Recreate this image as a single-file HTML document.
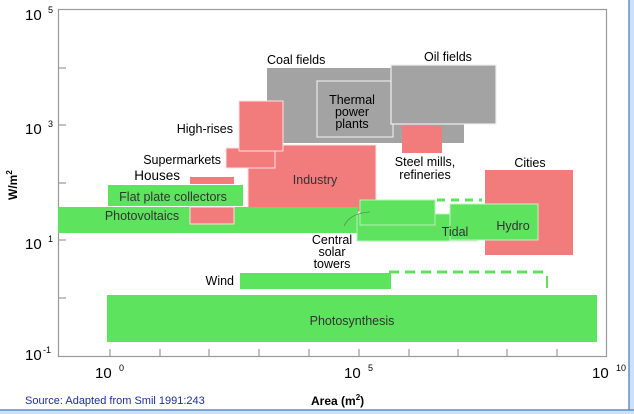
<!DOCTYPE html>
<html><head><meta charset="utf-8"><style>
html,body{margin:0;padding:0;background:#fff;}
svg{display:block;font-family:"Liberation Sans",sans-serif;}
</style></head><body>
<svg width="634" height="414" viewBox="0 0 634 414" xmlns="http://www.w3.org/2000/svg">
<rect x="0" y="0" width="634" height="414" fill="#fff"/>
<rect x="629" y="0" width="5" height="414" fill="#cfe0f5"/>
<line x1="629" y1="0" x2="629" y2="414" stroke="#5a8fd0" stroke-width="1.5"/>
<rect x="0" y="410" width="634" height="4" fill="#cfe0f5"/>
<line x1="0" y1="410" x2="634" y2="410" stroke="#5a8fd0" stroke-width="1.5"/>
<rect x="58.5" y="9.5" width="548" height="347" fill="none" stroke="#9a9a9a" stroke-width="1.2"/>
<g stroke="#9a9a9a" stroke-width="1.2">
<line x1="58" y1="68" x2="66" y2="68"/><line x1="58" y1="125" x2="66" y2="125"/>
<line x1="58" y1="183" x2="66" y2="183"/><line x1="58" y1="240" x2="66" y2="240"/>
<line x1="58" y1="298" x2="66" y2="298"/>
<line x1="110" y1="356" x2="110" y2="349"/><line x1="160" y1="356" x2="160" y2="349"/>
<line x1="209" y1="356" x2="209" y2="349"/><line x1="259" y1="356" x2="259" y2="349"/>
<line x1="309" y1="356" x2="309" y2="349"/><line x1="359" y1="356" x2="359" y2="349"/>
<line x1="409" y1="356" x2="409" y2="349"/><line x1="458" y1="356" x2="458" y2="349"/>
<line x1="507" y1="356" x2="507" y2="349"/><line x1="557" y1="356" x2="557" y2="349"/>
</g>
<rect x="267" y="68" width="197" height="75" fill="#a3a3a3"/>
<rect x="317" y="81" width="76" height="56" fill="#a3a3a3" stroke="#e8e8e8" stroke-width="1.2"/>
<rect x="391" y="65" width="105" height="59" fill="#a3a3a3" stroke="#eeeeee" stroke-width="1.2"/>
<rect x="402" y="126" width="40" height="27" fill="#f27b7b"/>
<rect x="485" y="170" width="88" height="85" fill="#f27b7b"/>
<rect x="248" y="145" width="128" height="67" fill="#f27b7b" stroke="#fbe0e0" stroke-width="1"/>
<rect x="226" y="148" width="49" height="20" fill="#f27b7b" stroke="#fbe0e0" stroke-width="1"/>
<rect x="239" y="101" width="44" height="50" fill="#f27b7b" stroke="#fbe0e0" stroke-width="1"/>
<rect x="190" y="177" width="44" height="7" fill="#f27b7b"/>
<rect x="58" y="207" width="300" height="26" fill="#5de35d"/>
<rect x="108" y="185" width="135" height="21" fill="#5de35d"/>
<rect x="190" y="207" width="44" height="17" fill="#f27b7b" stroke="#fbe0e0" stroke-width="1"/>
<rect x="357" y="214" width="120" height="27" fill="#5de35d" stroke="#b8f0b8" stroke-width="1"/>
<rect x="360" y="200" width="75" height="25" fill="#5de35d" stroke="#b8f0b8" stroke-width="1"/>
<rect x="450" y="204" width="88" height="36" fill="#5de35d" stroke="#c8f0c0" stroke-width="1"/>
<line x1="437" y1="200" x2="482" y2="200" stroke="#5de35d" stroke-width="3" stroke-dasharray="8,6"/>
<path d="M344 226 Q350 213 370 212" fill="none" stroke="#5a8a5a" stroke-width="0.8"/>
<rect x="240" y="273" width="151" height="16" fill="#5de35d"/>
<line x1="389" y1="272" x2="545" y2="272" stroke="#5de35d" stroke-width="3" stroke-dasharray="10,6"/>
<line x1="547" y1="276" x2="547" y2="288" stroke="#5de35d" stroke-width="2"/>
<rect x="107" y="295" width="490" height="47" fill="#5de35d"/>
<g font-size="12.5" fill="#000">
<text x="267" y="64">Coal fields</text>
<text x="424" y="61">Oil fields</text>
<g text-anchor="middle">
<text x="352" y="104">Thermal</text><text x="352" y="116">power</text><text x="352" y="128">plants</text>
<text x="425" y="166">Steel mills,</text><text x="425" y="179">refineries</text>
<text x="530" y="167">Cities</text>
<text x="332" y="244">Central</text><text x="332" y="256">solar</text><text x="332" y="268">towers</text>
</g>
<text x="233" y="133" text-anchor="end">High-rises</text>
<text x="221" y="164" text-anchor="end">Supermarkets</text>
<text x="180" y="180" text-anchor="end" font-size="13.5">Houses</text>
<text x="234" y="285" text-anchor="end">Wind</text>
</g>
<g font-size="12.5" fill="#333" text-anchor="middle">
<text x="315" y="184">Industry</text>
<text x="173" y="201">Flat plate collectors</text>
<text x="142" y="220">Photovoltaics</text>
<text x="455" y="236">Tidal</text>
<text x="513" y="230">Hydro</text>
<text x="352" y="325">Photosynthesis</text>
</g>
<g font-size="15" fill="#000">
<text x="25" y="20">10</text><text x="48" y="13" font-size="9">5</text>
<text x="25" y="134">10</text><text x="48" y="127" font-size="9">3</text>
<text x="25" y="249">10</text><text x="48" y="242" font-size="9">1</text>
<text x="25" y="360">10</text><text x="43" y="353" font-size="9">-1</text>
<text x="95" y="378">10</text><text x="119" y="371" font-size="9">0</text>
<text x="344" y="378">10</text><text x="368" y="371" font-size="9">5</text>
<text x="592" y="378">10</text><text x="616" y="371" font-size="9">10</text>
</g>
<text transform="translate(17,200) rotate(-90)" font-size="12" font-weight="bold">W/m<tspan font-size="8" dy="-5">2</tspan></text>
<text x="311" y="405" font-size="12" font-weight="bold">Area (m<tspan font-size="8" dy="-5">2</tspan><tspan dy="5">)</tspan></text>
<text x="25" y="404" font-size="11" fill="#1a2f9a">Source: Adapted from Smil 1991:243</text>
</svg>
</body></html>
